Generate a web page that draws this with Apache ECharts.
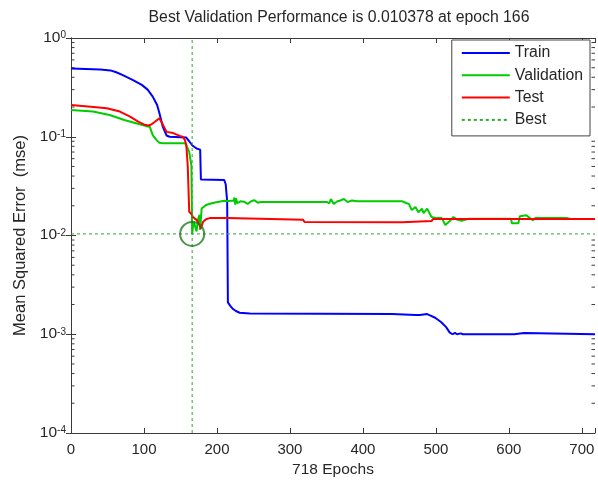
<!DOCTYPE html>
<html>
<head>
<meta charset="utf-8">
<script src="https://cdn.jsdelivr.net/npm/echarts@6/dist/echarts.min.js"></script>
<style>html,body{margin:0;padding:0;background:#fff}#c{width:598px;height:484px}</style>
</head>
<body>
<div id="c"></div>
<script>
const titleText = 'Best Validation Performance is 0.010378 at epoch 166';
const xName = '718 Epochs';
const yName = 'Mean Squared Error  (mse)';
const seriesNames = ['Train', 'Validation', 'Test', 'Best'];
const maxEpoch = 718;
const bestEpoch = 166;
const bestValue = 0.010378;

const trainEpochs = [0,40,54,62,71,85,97,105,112,118,121,126,131,135,158,162,166,172,177,178,210,212,214,215,218,222,226,231,245,440,442,472,474,478,488,492,499,507,514,519,523,526,529,534,537,607,609,621,623,718];
const trainValues = [0.49,0.48,0.47,0.45,0.42,0.375,0.335,0.30,0.255,0.21,0.175,0.125,0.103,0.1,0.098,0.09,0.082,0.076,0.074,0.037,0.0365,0.033,0.022,0.0021,0.00195,0.0018,0.00172,0.00165,0.00162,0.0016,0.00157,0.00157,0.0016,0.00157,0.0016,0.00155,0.00147,0.00133,0.00118,0.00104,0.001,0.00103,0.001,0.00102,0.001,0.001,0.00103,0.00103,0.001,0.001];

const valEpochs = [0,30,53,73,89,103,108,112,117,121,123,126,156,158,162,165,166,168,170,172,174,176,177,179,185,194,210,217,223,224,225,226,228,232,237,242,247,251,256,260,351,354,356,360,365,369,374,379,385,392,454,460,463,467,472,476,481,483,488,494,501,508,513,519,524,529,535,545,603,604,613,615,624,629,633,636,680,685,718];
const valValues = [0.187,0.18,0.166,0.148,0.137,0.128,0.126,0.104,0.093,0.087,0.091,0.086,0.086,0.082,0.07,0.051,0.010378,0.0138,0.0125,0.011,0.0145,0.0162,0.0114,0.0188,0.0204,0.0213,0.0225,0.0223,0.0226,0.0242,0.0205,0.0238,0.0212,0.0222,0.022,0.0209,0.0222,0.0228,0.0215,0.0218,0.0218,0.0212,0.0234,0.0209,0.0222,0.0226,0.0234,0.0218,0.0226,0.0222,0.0222,0.0212,0.0209,0.0181,0.0194,0.0172,0.0187,0.0168,0.0187,0.0154,0.015,0.015,0.0128,0.014,0.0154,0.0145,0.0141,0.0148,0.0148,0.0133,0.0133,0.0157,0.016,0.015,0.0143,0.015,0.015,0.0147,0.0147];

const testEpochs = [0,31,49,67,81,92,101,106,110,115,121,123,126,131,140,149,153,156,158,160,162,165,167,172,176,178,181,185,190,214,216,318,320,454,456,494,496,718];
const testValues = [0.21,0.2,0.194,0.18,0.16,0.142,0.132,0.13,0.133,0.142,0.154,0.148,0.132,0.112,0.109,0.102,0.1,0.093,0.082,0.05,0.0174,0.0165,0.0154,0.0144,0.0128,0.0118,0.0138,0.0146,0.015,0.015,0.0144,0.0144,0.0137,0.0136,0.014,0.014,0.0147,0.0147];

const xTickLabels = ['0','100','200','300','400','500','600','700'];
const decades = [1e-4, 1e-3, 1e-2, 1e-1];
const minorMultipliers = [2,3,4,5,6,7,8,9];

function pairs(xs, ys) { return xs.map((x, i) => [x, ys[i]]); }
const minorTicks = [];
decades.forEach(d => minorMultipliers.forEach(m => minorTicks.push([0, d * m])));

const txt = '#262626';
const axisCol = '#3a3a3a';
const font = 'Liberation Sans, Arial, sans-serif';

const chart = echarts.init(document.getElementById('c'), null, {renderer: 'canvas'});
const yLabelFmt = v => {
  const e = Math.round(Math.log10(v));
  return '{b|10}{s|' + e + '}';
};
chart.setOption({
  animation: false,
  backgroundColor: '#fff',
  textStyle: {fontFamily: font},
  title: {
    text: titleText, left: 334, top: 5, textAlign: 'center',
    textStyle: {fontSize: 15.8, fontWeight: 'normal', color: txt, fontFamily: font}
  },
  grid: {left: 71, right: 1, top: 38, bottom: 51},
  legend: {
    data: seriesNames, orient: 'vertical', right: 8, top: 40,
    backgroundColor: '#fff', borderColor: '#444', borderWidth: 1,
    padding: [5, 7, 8, 9], itemWidth: 48, itemHeight: 16, itemGap: 6.3,
    itemStyle: {opacity: 0},
    textStyle: {fontSize: 15.8, color: txt, fontFamily: font, lineHeight: 16}
  },
  xAxis: [{
    type: 'value', min: 0, max: maxEpoch, interval: 100, position: 'bottom',
    name: xName, nameLocation: 'middle', nameGap: 28,
    nameTextStyle: {fontSize: 15.5, color: txt, fontFamily: font},
    axisLine: {show: true, lineStyle: {color: axisCol, width: 1}},
    axisTick: {show: true, inside: true, length: 5, lineStyle: {color: axisCol}},
    axisLabel: {fontSize: 15, color: txt, margin: 9, fontFamily: font,
      formatter: v => (v % 100 === 0 ? xTickLabels[v / 100] : '')},
    splitLine: {show: false}
  }, {
    type: 'value', min: 0, max: maxEpoch, interval: 100, position: 'top',
    axisLine: {show: true, lineStyle: {color: axisCol, width: 1}},
    axisTick: {show: true, inside: true, length: 5, lineStyle: {color: axisCol}},
    axisLabel: {show: false}, splitLine: {show: false}
  }],
  yAxis: [{
    type: 'log', min: 1e-4, max: 1, logBase: 10, position: 'left',
    name: yName, nameLocation: 'middle', nameGap: 42, nameRotate: 90,
    nameTextStyle: {fontSize: 16.5, color: txt, fontFamily: font},
    axisLine: {show: true, lineStyle: {color: axisCol, width: 1}},
    axisTick: {show: true, inside: true, length: 5, lineStyle: {color: axisCol}},
    axisLabel: {color: txt, margin: 5, formatter: yLabelFmt,
      rich: {
        b: {fontSize: 15.5, color: txt, fontFamily: font, verticalAlign: 'bottom', lineHeight: 15, padding: [5, 0, 0, 0]},
        s: {fontSize: 10, color: txt, fontFamily: font, verticalAlign: 'top', lineHeight: 10}
      }},
    splitLine: {show: false}
  }, {
    type: 'log', min: 1e-4, max: 1, logBase: 10, position: 'right',
    axisLine: {show: true, lineStyle: {color: axisCol, width: 1}},
    axisTick: {show: true, inside: true, length: 5, lineStyle: {color: axisCol}},
    axisLabel: {show: false}, splitLine: {show: false}
  }],
  series: [
    {
      name: 'ticks', type: 'custom', silent: true, z: 3, clip: false,
      renderItem: (params, api) => {
        const v = api.value(1);
        const pl = api.coord([0, v]);
        const pr = api.coord([maxEpoch, v]);
        return {type: 'group', children: [
          {type: 'line', shape: {x1: pl[0], y1: pl[1], x2: pl[0] + 3.5, y2: pl[1]}, style: {stroke: axisCol, lineWidth: 1}},
          {type: 'line', shape: {x1: pr[0] - 3.5, y1: pr[1], x2: pr[0], y2: pr[1]}, style: {stroke: axisCol, lineWidth: 1}}
        ]};
      },
      data: minorTicks
    },
    {name: 'Train', type: 'line', data: pairs(trainEpochs, trainValues), symbol: 'none',
      lineStyle: {color: '#0000ff', width: 2}, itemStyle: {color: '#0000ff'}},
    {name: 'Validation', type: 'line', data: pairs(valEpochs, valValues), symbol: 'none',
      lineStyle: {color: '#00cc00', width: 2}, itemStyle: {color: '#00cc00'}},
    {name: 'Test', type: 'line', data: pairs(testEpochs, testValues), symbol: 'none',
      lineStyle: {color: '#ff0000', width: 2}, itemStyle: {color: '#ff0000'}},
    {name: 'Best', type: 'line', data: [[0, bestValue], [maxEpoch, bestValue]], symbol: 'none',
      lineStyle: {color: '#2ea82e', width: 1, type: [3, 3]}, itemStyle: {color: '#2ea82e'}},
    {name: 'Best', type: 'line', data: [[bestEpoch, 1e-4], [bestEpoch, 1]], symbol: 'none',
      lineStyle: {color: '#2ea82e', width: 1, type: [3, 3]}, itemStyle: {color: '#2ea82e'}},
    {name: 'bestMarker', type: 'scatter', data: [[bestEpoch, bestValue]], symbol: 'circle', symbolSize: 24,
      itemStyle: {color: 'rgba(0,0,0,0)', borderColor: '#1e7b1e', borderWidth: 2}, z: 5}
  ]
});
</script>
</body>
</html>
